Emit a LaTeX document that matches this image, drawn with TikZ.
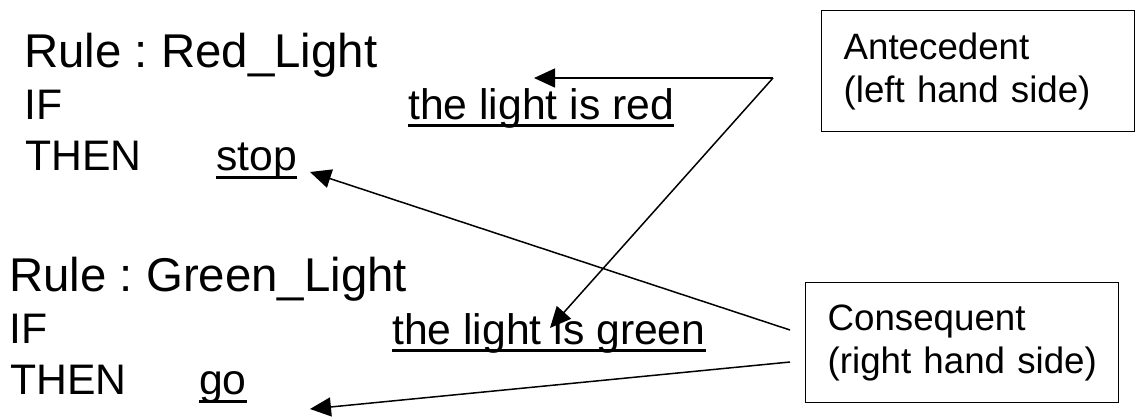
\documentclass[tikz,border=0pt]{standalone}
\usepackage{fontspec}
\setmainfont{Liberation Sans}
\usetikzlibrary{arrows.meta}
\begin{document}
\frenchspacing
\begin{tikzpicture}[x=1pt,y=-1pt,
  txt/.style={anchor=base west, inner sep=0pt, font=\fontsize{42.7}{50}\selectfont},
  ttl/.style={anchor=base west, inner sep=0pt, font=\fontsize{47.4}{55}\selectfont},
  lbl/.style={draw, line width=1.3pt, anchor=north west, text width=269pt, inner xsep=22pt, inner ysep=0pt, align=left, font=\fontsize{36.7}{43}\selectfont},
  uline/.style={line width=3pt},
  conn/.style={line width=1.5pt, -{Triangle[length=21pt,width=19pt]}},
  ]
\useasboundingbox (0,0) rectangle (1137,416);
% Red light rule
\node[ttl] (rt1) at (24,67) {Rule : Red\_Light};
\node[txt] (if1) at (24,119) {IF};
\node[txt] (then1) at (25,170) {THEN};
\node[txt] (stop) at (216,170) {stop};
\node[txt] (cond1) at (408,119) {the light is red};
% Green light rule
\node[ttl] (rt2) at (9,291) {Rule : Green\_Light};
\node[txt] (if2) at (9,343) {IF};
\node[txt] (then2) at (10,394) {THEN};
\node[txt] (go) at (199,394) {go};
\node[txt] (cond2) at (392,344) {the light is green};
% underlines
\draw[uline] ([yshift=-6.5pt]cond1.base west) -- ([yshift=-6.5pt]cond1.base east);
\draw[uline] ([yshift=-7pt]stop.base west) -- ([yshift=-7pt]stop.base east);
\draw[uline] ([yshift=-6.5pt]cond2.base west) -- ([yshift=-6.5pt]cond2.base east);
\draw[uline] ([yshift=-7pt]go.base west) -- ([yshift=-7pt]go.base east);
% label boxes
\node[lbl, minimum height=121pt] (ante) at (821,10) {\mbox{Antecedent}\\\mbox{(left hand side)}};
\node[lbl, minimum height=120pt] (cons) at (805,282) {\mbox{Consequent}\\\mbox{(right hand side)}};
% connector ends
\coordinate (a0) at (773,78);
\coordinate (t1) at (534,78);
\coordinate (t2) at (550,328);
\coordinate (c1) at (790,330);
\coordinate (c2) at (790,362);
\coordinate (t3) at (310,172);
\coordinate (t4) at (310,409);
\draw[conn] (a0) -- (t1);
\draw[conn] (a0) -- (t2);
\draw[conn] (c1) -- (t3);
\draw[conn] (c2) -- (t4);
\end{tikzpicture}
\end{document}
